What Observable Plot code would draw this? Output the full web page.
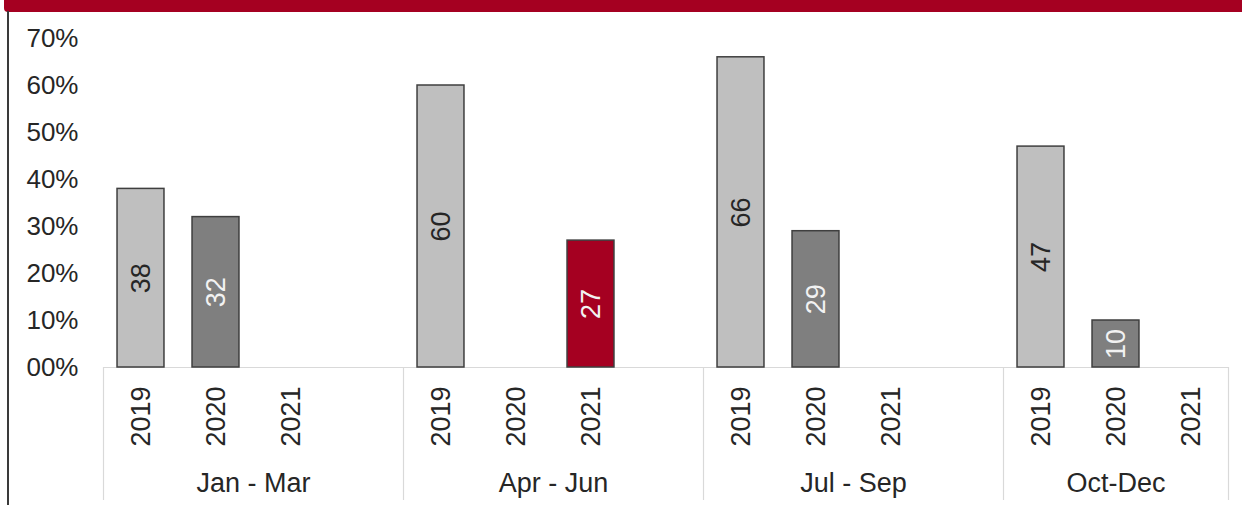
<!DOCTYPE html>
<html><head><meta charset="utf-8">
<script src="https://cdn.jsdelivr.net/npm/d3@7"></script>
<script src="https://cdn.jsdelivr.net/npm/@observablehq/plot@0.6"></script>
<style>
body{margin:0;background:#fff;}
#wrap{position:relative;width:1242px;height:505px;overflow:hidden;}
#chart svg{position:absolute;left:0;top:0;}
#band{position:absolute;left:4px;top:0;width:1238px;height:12px;background:#a50021;border-bottom-left-radius:4px;}
#vline{position:absolute;left:7px;top:11px;width:2px;height:494px;background:#3a3a3a;}
</style></head><body>
<div id="wrap"><div id="chart"></div><div id="band"></div><div id="vline"></div></div>
<script>
const quarters = ["Jan - Mar", "Apr - Jun", "Jul - Sep", "Oct-Dec"];
const years = ["2019", "2020", "2021"];
const values2019 = [38, 60, 66, 47];
const values2020 = [32, null, 29, 10];
const values2021 = [null, 27, null, null];
const yTicks = [0, 10, 20, 30, 40, 50, 60, 70];
const yearColors = ["#bfbfbf", "#7f7f7f", "#a50021"];
const labelColors = ["#262626", "#f2f2f2", "#f2f2f2"];

const series = [values2019, values2020, values2021];
const slots = [];
const groups = [];
let idx = 0;
quarters.forEach((q, qi) => {
  const start = idx;
  years.forEach((y, yi) => {
    slots.push({quarter: q, year: y, yi, slot: idx, value: series[yi][qi]});
    idx++;
  });
  if (qi < quarters.length - 1) idx++;
  groups.push({quarter: q, start, end: idx});
});
const nSlots = idx;
const boundaries = groups.map(g => g.start).concat([nSlots]);
const bars = slots.filter(d => d.value != null);

const W = 1242, H = 505, mT = 38, mB = 138, mL = 103, mR = 14;
const pxPerUnit = (H - mT - mB) / 70;
const axisBottom = -(mB - 5) / pxPerUnit;
const pad = 0.187;

const chart = Plot.plot({
  width: W, height: H,
  marginTop: mT, marginBottom: mB, marginLeft: mL, marginRight: mR,
  style: {fontFamily: "'Liberation Sans', Arial, sans-serif", fontSize: "26px", color: "#262626", background: "transparent", overflow: "visible"},
  x: {type: "linear", domain: [0, nSlots], axis: null},
  y: {domain: [0, 70], ticks: yTicks, tickFormat: d => String(d).padStart(2, "0") + "%", tickSize: 0, tickPadding: 25, label: null},
  marks: [
    Plot.ruleX(boundaries, {x: d => d, y1: 0, y2: axisBottom, stroke: "#d9d9d9", strokeWidth: 1.2}),
    Plot.ruleY([0], {stroke: "#d9d9d9", strokeWidth: 1.2}),
    Plot.rectY(bars, {x1: d => d.slot + pad, x2: d => d.slot + 1 - pad, y: "value", fill: d => yearColors[d.yi], stroke: "#3f3f3f", strokeWidth: 1.5}),
    Plot.text(bars, {x: d => d.slot + 0.5, y: d => d.value / 2, text: d => String(d.value), rotate: -90, fill: d => labelColors[d.yi], fontSize: 27}),
    Plot.text(slots, {x: d => d.slot + 0.5, y: 0, text: "year", rotate: -90, dy: 49, fill: "#262626", fontSize: 27}),
    Plot.text(groups, {x: g => (g.start + g.end) / 2, y: 0, text: "quarter", dy: 116, fill: "#262626", fontSize: 27})
  ]
});
document.getElementById("chart").appendChild(chart);
</script>
</body></html>
